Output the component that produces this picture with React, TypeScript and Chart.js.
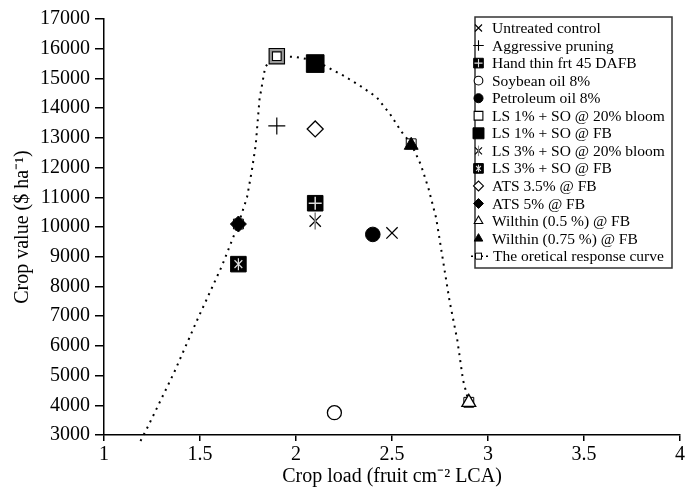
import React, { useEffect, useRef } from "react";
import { Chart, registerables } from "chart.js";
import { drawPoint } from "chart.js/helpers";

Chart.register(...registerables);

// ---- data ----
const seriesNames = [
  "Untreated control",
  "Aggressive pruning",
  "Hand thin frt 45 DAFB",
  "Soybean oil 8%",
  "Petroleum oil 8%",
  "LS 1% + SO @ 20% bloom",
  "LS 1% + SO @ FB",
  "LS 3% + SO @ 20% bloom",
  "LS 3% + SO @ FB",
  "ATS 3.5% @ FB",
  "ATS 5% @ FB",
  "Wilthin (0.5 %) @ FB",
  "Wilthin (0.75 %) @ FB",
];
const seriesX = [2.5, 1.9, 2.1, 2.2, 2.4, 1.9, 2.1, 2.1, 1.7, 2.1, 1.7, 2.9, 2.6];
const seriesY = [9800, 13400, 10800, 3750, 9750, 15750, 15500, 10200, 8750, 13300, 10100, 4100, 12750];
const seriesMarkers = [
  "x", "plus", "handthin", "ocircle", "fcircle", "osquare", "fsquare",
  "xstar", "xsquare", "odiamond", "fdiamond", "otri", "ftri",
];

const curveName = "The oretical response curve";
const curveX = [1.19, 1.23, 1.365, 1.484, 1.615, 1.7, 1.745, 1.77, 1.79, 1.81, 1.84, 1.9, 2.0, 2.1, 2.245, 2.33, 2.42, 2.49, 2.55, 2.6, 2.65, 2.69, 2.73, 2.8, 2.84, 2.87, 2.9];
const curveY = [2800, 3300, 5100, 6850, 8700, 10100, 11000, 11900, 12750, 14300, 15400, 15750, 15720, 15600, 15100, 14770, 14370, 13800, 13200, 12800, 12100, 11300, 10300, 7500, 6200, 4850, 4100];
const curveMarkerX = [1.7, 1.9, 2.6, 2.9];

const xTicks = [1, 1.5, 2, 2.5, 3, 3.5, 4];
const yMin = 3000;
const yMax = 17000;
const yStep = 1000;

const FONT = "'Liberation Serif', 'Times New Roman', serif";

type Layer = { style: string; r: number; bg: string; bc: string; bw: number; rot?: number };

// marker = stack of built-in Chart.js point styles (first drawn at the bottom)
function layersFor(kind: string, k: number): Layer[] {
  switch (kind) {
    case "x":
      return [{ style: "crossRot", r: 8 * k, bg: "#000", bc: "#000", bw: 1.3 }];
    case "plus":
      return [{ style: "cross", r: 8.5 * k, bg: "#000", bc: "#000", bw: 1.2 }];
    case "handthin":
      return [
        { style: "rect", r: 11 * k, bg: "#000", bc: "#000", bw: 1 },
        { style: "cross", r: 6.5 * k, bg: "#ddd", bc: "#ddd", bw: 1.5 },
      ];
    case "ocircle":
      return [{ style: "circle", r: 7 * k, bg: "#fff", bc: "#000", bw: 1.3 }];
    case "fcircle":
      return [{ style: "circle", r: 7.3 * k, bg: "#000", bc: "#000", bw: 1 }];
    case "osquare":
      return k < 1
        ? [{ style: "rect", r: 10 * k, bg: "#fff", bc: "#000", bw: 1.2 }]
        : [
            { style: "rect", r: 8.5, bg: "#fff", bc: "#000", bw: 4.5 },
            { style: "rect", r: 8.5, bg: "rgba(0,0,0,0)", bc: "#999", bw: 2.2 },
          ];
    case "fsquare":
      return [{ style: "rect", r: 12.5 * k, bg: "#000", bc: "#000", bw: 1 }];
    case "xstar":
      return [
        { style: "crossRot", r: 8 * k, bg: "#000", bc: "#000", bw: 1.3 },
        { style: "line", r: 8.5 * k, bg: "#888", bc: "#888", bw: 1.6, rot: 90 },
      ];
    case "xsquare":
      return [
        { style: "rect", r: 11 * k, bg: "#000", bc: "#000", bw: 1 },
        { style: "crossRot", r: 5.5 * k, bg: "#ddd", bc: "#ddd", bw: 1.2 },
        { style: "line", r: 6 * k, bg: "#ddd", bc: "#ddd", bw: 1.2, rot: 90 },
      ];
    case "odiamond":
      return [{ style: "rectRot", r: 8 * k, bg: "#fff", bc: "#000", bw: 1.3 }];
    case "fdiamond":
      return [{ style: "rectRot", r: 8 * k, bg: "#000", bc: "#000", bw: 1 }];
    case "otri":
      return [{ style: "triangle", r: 8 * k, bg: "#fff", bc: "#000", bw: 1.3 }];
    case "ftri":
      return [{ style: "triangle", r: 8 * k, bg: "#000", bc: "#000", bw: 1 }];
  }
  return [];
}

const legendPlugin = {
  id: "boxLegend",
  afterDraw(chart: any) {
    const ctx = chart.ctx as CanvasRenderingContext2D;
    const left = 475, top = 17, right = 672, bottom = 268;
    ctx.save();
    ctx.fillStyle = "#fff";
    ctx.fillRect(left, top, right - left, bottom - top);
    ctx.strokeStyle = "#333";
    ctx.lineWidth = 1.5;
    ctx.strokeRect(left, top, right - left, bottom - top);
    ctx.font = `15.5px ${FONT}`;
    ctx.textBaseline = "middle";
    ctx.textAlign = "left";
    const step = 17.55;
    seriesNames.forEach((name, i) => {
      const y = 28 + i * step;
      for (const L of layersFor(seriesMarkers[i], 0.62)) {
        ctx.fillStyle = L.bg;
        ctx.strokeStyle = L.bc;
        ctx.lineWidth = Math.min(L.bw, 1.1);
        drawPoint(
          ctx,
          { pointStyle: L.style as any, radius: L.r, rotation: L.rot || 0, borderWidth: ctx.lineWidth } as any,
          478.5,
          y
        );
      }
      ctx.fillStyle = "#000";
      ctx.fillText(name, 492, y + 1);
    });
    const y = 28 + seriesNames.length * step;
    ctx.setLineDash([2, 3]);
    ctx.lineWidth = 1.5;
    ctx.strokeStyle = "#000";
    ctx.beginPath();
    ctx.moveTo(471, y);
    ctx.lineTo(491, y);
    ctx.stroke();
    ctx.setLineDash([]);
    ctx.fillStyle = "#fff";
    ctx.fillRect(475, y - 3.5, 7, 7);
    ctx.lineWidth = 1;
    ctx.strokeRect(475.5, y - 3, 6, 6);
    ctx.fillStyle = "#000";
    ctx.fillText(curveName, 493, y + 1);
    ctx.restore();
  },
};

export default function App() {
  const ref = useRef<HTMLCanvasElement | null>(null);
  useEffect(() => {
    document.body.style.margin = "0";
    const canvas = ref.current!;
    const scatterSets: any[] = [];
    seriesNames.forEach((name, i) => {
      const layers = layersFor(seriesMarkers[i], 1);
      // Chart.js draws dataset 0 last (on top), so push top layers first
      layers
        .slice()
        .reverse()
        .forEach((L) => {
          scatterSets.push({
            type: "scatter",
            label: name,
            data: [{ x: seriesX[i], y: seriesY[i] }],
            pointStyle: L.style,
            pointRadius: L.r,
            pointRotation: L.rot || 0,
            pointBackgroundColor: L.bg,
            pointBorderColor: L.bc,
            pointBorderWidth: L.bw,
            showLine: false,
          });
        });
    });
    const curveData = curveX.map((x, i) => ({ x, y: curveY[i] }));
    const curveSet = {
      type: "line",
      label: curveName,
      data: curveData,
      borderColor: "#000",
      borderWidth: 2,
      borderDash: [2, 5],
      fill: false,
      tension: 0,
      clip: false,
      pointStyle: "rect",
      pointRadius: curveX.map((x) => (curveMarkerX.includes(x) ? 7 : 0)),
      pointBorderWidth: 1,
      pointBorderColor: "#000",
      pointBackgroundColor: "rgba(0,0,0,0)",
    };
    const chart = new Chart(canvas, {
      type: "scatter",
      data: { datasets: [...scatterSets, curveSet] as any },
      options: {
        animation: false,
        responsive: false,
        layout: { padding: { left: 0, top: 19, right: 16, bottom: 0 } },
        plugins: { legend: { display: false }, tooltip: { enabled: false } },
        scales: {
          x: {
            type: "linear",
            min: 1,
            max: 4,
            afterBuildTicks: (scale: any) => {
              scale.ticks = xTicks.map((v) => ({ value: v }));
            },
            afterFit: (scale: any) => {
              scale.height = 54;
            },
            ticks: {
              color: "#000",
              font: { family: FONT, size: 20 },
              padding: 2,
              callback: (v: any) => String(v),
            },
            grid: {
              display: true,
              drawOnChartArea: false,
              drawTicks: true,
              tickLength: 6,
              color: "#000",
              lineWidth: 1.5,
            },
            border: { display: true, color: "#000", width: 1.5 },
            title: {
              display: true,
              text: "Crop load (fruit cm\u207B\u00B2 LCA)",
              color: "#000",
              font: { family: FONT, size: 20 },
              padding: { top: 0, bottom: 0 },
            },
          },
          y: {
            type: "linear",
            min: yMin,
            max: yMax,
            afterFit: (scale: any) => {
              scale.width = 104;
            },
            ticks: {
              stepSize: yStep,
              color: "#000",
              font: { family: FONT, size: 20 },
              padding: 5,
              callback: (v: any) => String(v),
            },
            grid: {
              display: true,
              drawOnChartArea: false,
              drawTicks: true,
              tickLength: 9,
              color: "#000",
              lineWidth: 1.5,
            },
            border: { display: true, color: "#000", width: 1.5 },
            title: {
              display: true,
              text: "Crop value ($ ha\u207B\u00B9)",
              color: "#000",
              font: { family: FONT, size: 20 },
              padding: { top: 11, bottom: 0 },
            },
          },
        },
      },
      plugins: [legendPlugin],
    });
    return () => chart.destroy();
  }, []);
  return (
    <div style={{ width: 696, height: 489, background: "#fff" }}>
      <canvas ref={ref} width={696} height={489} style={{ display: "block" }} />
    </div>
  );
}
